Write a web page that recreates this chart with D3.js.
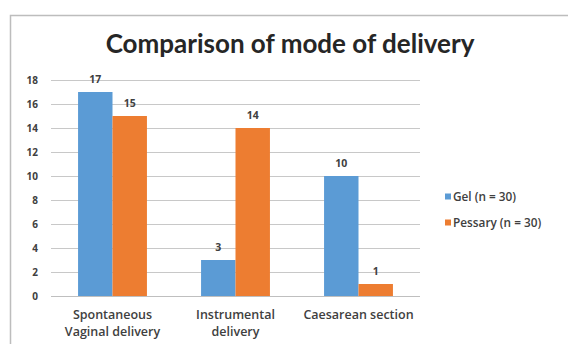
<!DOCTYPE html>
<html><head><meta charset="utf-8">
<script src="https://cdn.jsdelivr.net/npm/d3@7"></script>
<style>body{margin:0;background:#fff}svg{display:block}</style>
</head><body>
<svg id="c" width="568" height="344"></svg>
<script>
const categories = [["Spontaneous","Vaginal delivery"],["Instrumental","delivery"],["Caesarean section"]];
const catKeys = ["Spontaneous Vaginal delivery","Instrumental delivery","Caesarean section"];
const seriesNames = ["Gel (n = 30)","Pessary (n = 30)"];
const gelValues = [17, 3, 10];
const pessaryValues = [15, 14, 1];
const yTicks = [0,2,4,6,8,10,12,14,16,18];
const colors = ["#5B9BD5","#ED7D31"];

const svg = d3.select("#c");
const font = "'Open Sans', sans-serif";
const tfont = "Lato, sans-serif";
const txt = "#404040";

svg.append("rect").attr("x",10.5).attr("y",15.5).attr("width",700).attr("height",500)
  .attr("fill","#fff").attr("stroke","#bdbdbd").attr("stroke-width",1.5);

svg.append("text").attr("x",290).attr("y",53).attr("text-anchor","middle")
  .attr("font-family",tfont).attr("font-weight",700).attr("font-size",26).attr("fill","#262626")
  .text("Comparison of mode of delivery");

const x0 = d3.scaleBand().domain(catKeys).range([51,420]).paddingInner(0.44).paddingOuter(0.22);
const x1 = d3.scaleBand().domain(seriesNames).range([0,x0.bandwidth()]);
const y = d3.scaleLinear().domain([0,18]).range([296,80]);

const grid = svg.append("g");
grid.selectAll("line").data(yTicks).join("line")
  .attr("x1",51).attr("x2",420).attr("y1",d=>Math.round(y(d))+0.5).attr("y2",d=>Math.round(y(d))+0.5)
  .attr("stroke",d=>d===0?"#bfbfbf":"#c8c8c8").attr("stroke-width",1);

const yAxis = d3.axisLeft(y).tickValues(yTicks).tickSize(0).tickPadding(0);
const ya = svg.append("g").attr("transform","translate(38,0)").call(yAxis);
ya.select(".domain").remove();
ya.selectAll("text").attr("font-family",font).attr("font-weight",700).attr("font-size",10).attr("fill",txt);

const series = [gelValues, pessaryValues];
series.forEach((vals,si)=>{
  const g = svg.append("g");
  g.selectAll("rect").data(vals).join("rect")
    .attr("x",(d,i)=>x0(catKeys[i])+x1(seriesNames[si]))
    .attr("y",d=>y(d)).attr("width",x1.bandwidth()).attr("height",d=>y(0)-y(d))
    .attr("fill",colors[si]);
  g.selectAll("text").data(vals).join("text")
    .attr("x",(d,i)=>x0(catKeys[i])+x1(seriesNames[si])+x1.bandwidth()/2)
    .attr("y",d=>y(d)-9).attr("text-anchor","middle")
    .attr("font-family",font).attr("font-weight",700).attr("font-size",10.5).attr("fill",txt)
    .text(d=>d);
});

const xa = svg.append("g");
catKeys.forEach((k,i)=>{
  const t = xa.append("text").attr("x",x0(k)+x0.bandwidth()/2).attr("y",319)
    .attr("text-anchor","middle").attr("font-family",font).attr("font-weight",600)
    .attr("font-size",12.5).attr("fill",txt);
  categories[i].forEach((line,j)=>{
    t.append("tspan").attr("x",x0(k)+x0.bandwidth()/2).attr("dy",j===0?0:17).text(line);
  });
});

const leg = svg.append("g");
seriesNames.forEach((n,i)=>{
  const ly = 197 + i*26;
  leg.append("rect").attr("x",445).attr("y",ly-3.5).attr("width",6).attr("height",6).attr("fill",colors[i]);
  leg.append("text").attr("x",453).attr("y",ly+3.5).attr("font-family",font).attr("font-weight",600)
    .attr("font-size",11.8).attr("fill",txt).text(n);
});
</script>
</body></html>
